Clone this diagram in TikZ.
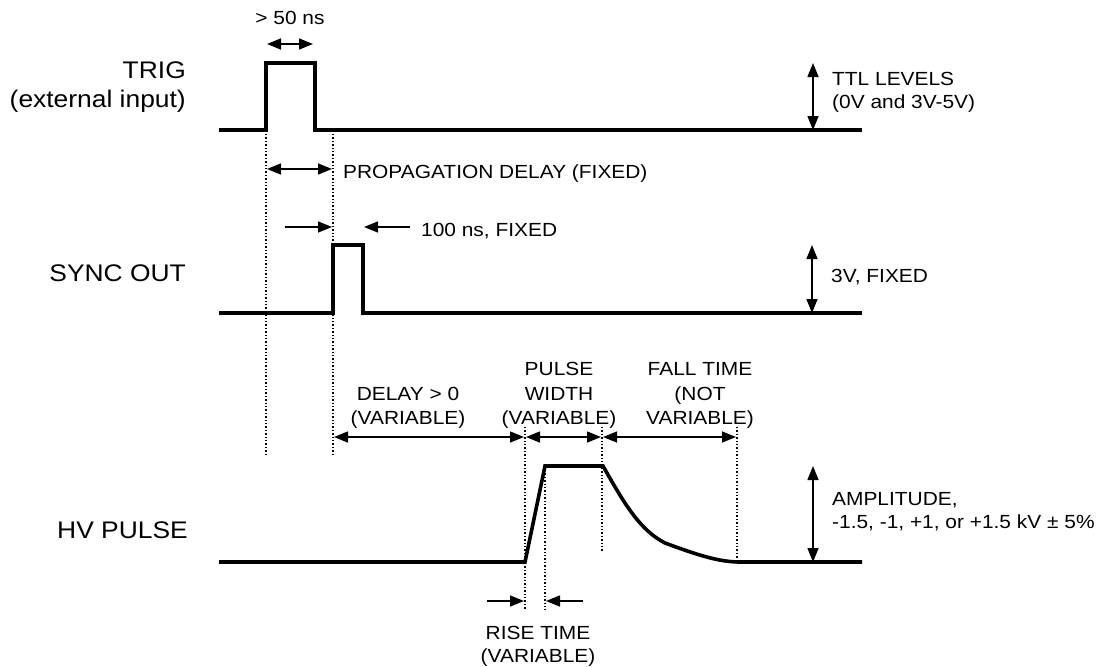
\documentclass[tikz,border=0pt]{standalone}
\usepackage{fontspec}
\setmainfont{Liberation Sans}[FakeStretch=1.1]
\usetikzlibrary{arrows.meta}
\newcommand{\lblfont}{\fontsize{24}{29}\selectfont}
\newcommand{\notefont}{\fontsize{19}{24}\selectfont}

\begin{document}
\begin{tikzpicture}[
    x=1pt, y=-1pt,
    >={Triangle[length=14pt,width=11pt]},
    signal/.style={line width=3.6pt, line join=miter},
    dim/.style={<->, line width=1.5pt},
    oneway/.style={->, line width=1.5pt},
    guide/.style={line width=1.4pt, dash pattern=on 1.4pt off 2pt},
    lbl/.style={font=\lblfont, anchor=base east, inner sep=0pt},
    note/.style={font=\notefont, anchor=base west, inner sep=0pt},
    cnote/.style={font=\notefont, anchor=base, inner sep=0pt}
]
\useasboundingbox (0,0) rectangle (1104,667);

% signal names
\node[lbl] (trig) at (186,78) {TRIG};
\node[lbl] (trigsub) at (186,107) {(external input)};
\node[lbl] (sync) at (186,281) {SYNC OUT};
\node[lbl] (hv) at (188,538) {HV PULSE};

% waveforms
\draw[signal] (219,130) -- (266,130) -- (266,63) -- (315,63) -- (315,130) -- (862,130);
\draw[signal] (219,313) -- (333,313) -- (333,245) -- (363,245) -- (363,313) -- (862,313);
\draw[signal] (219,562) -- (525,562) -- (545,466) -- (603,466)
    .. controls (625,505) and (640,530) .. (665,543)
    .. controls (700,556) and (720,562) .. (740,562) -- (862,562);

% timing marks
\coordinate (trigA) at (266,134);
\coordinate (syncA) at (333,134);
\coordinate (riseA) at (525,427);
\coordinate (riseB) at (545,470);
\coordinate (fallA) at (602,427);
\coordinate (fallB) at (737,427);
\draw[guide] (trigA) -- ++(0,321);
\draw[guide] (syncA) -- ++(0,321);
\draw[guide] (riseA) -- ++(0,183);
\draw[guide] (riseB) -- ++(0,140);
\draw[guide] (fallA) -- ++(0,125);
\draw[guide] (fallB) -- ++(0,133);

% TRIG
\draw[dim] (267,44) -- (313,44);
\node[cnote] (minw) at (290,24) {> 50 ns};
\draw[dim] (813,63) -- (813,130);
\node[note] (ttl) at (832,85) {TTL LEVELS};
\node[note] (ttlsub) at (832,108) {(0V and 3V-5V)};
\draw[dim] (267,169) -- (332,169);
\node[note] (prop) at (343,178) {PROPAGATION DELAY (FIXED)};

% SYNC OUT
\draw[oneway] (285,227) -- (332,227);
\draw[oneway] (410,227) -- (364,227);
\node[note] (syncw) at (421,236) {100 ns, FIXED};
\draw[dim] (812,245) -- (812,313);
\node[note] (synclvl) at (831,282) {3V, FIXED};

% HV PULSE
\draw[dim] (334,437) -- (524,437);
\draw[dim] (526,437) -- (601,437);
\draw[dim] (603,437) -- (736,437);
\node[cnote] (dlyA) at (408,400) {DELAY > 0};
\node[cnote] (dlyB) at (408,424) {(VARIABLE)};
\node[cnote] (pwA) at (559,375) {PULSE};
\node[cnote] (pwB) at (559,400) {WIDTH};
\node[cnote] (pwC) at (559,424) {(VARIABLE)};
\node[cnote] (ftA) at (700,375) {FALL TIME};
\node[cnote] (ftB) at (700,400) {(NOT};
\node[cnote] (ftC) at (700,424) {VARIABLE)};
\draw[oneway] (487,601) -- (524,601);
\draw[oneway] (583,601) -- (546,601);
\node[cnote] (rtA) at (538,639) {RISE TIME};
\node[cnote] (rtB) at (538,662) {(VARIABLE)};
\draw[dim] (813,466) -- (813,562);
\node[note] (ampA) at (832,505) {AMPLITUDE,};
\node[note] (ampB) at (832,528) {-1.5, -1, +1, or +1.5 kV ± 5\%};
\end{tikzpicture}
\end{document}
